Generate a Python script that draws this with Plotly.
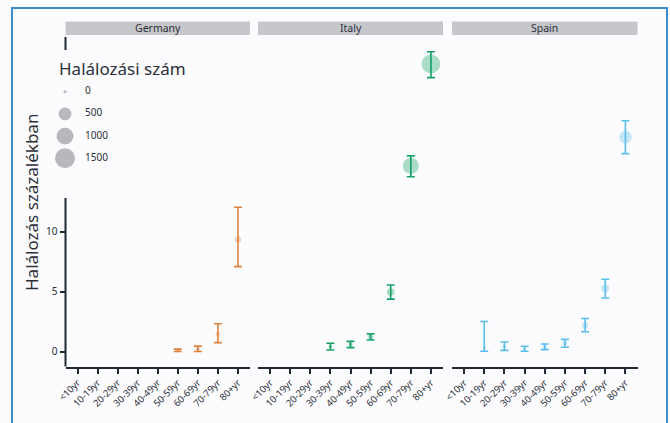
import math
import plotly.graph_objects as go

# ---- data -------------------------------------------------------------
age_groups = ["<10yr", "10-19yr", "20-29yr", "30-39yr", "40-49yr",
              "50-59yr", "60-69yr", "70-79yr", "80+yr"]
countries = ["Germany", "Italy", "Spain"]

# case fatality (%) with confidence limits and number of deaths per age group
germany_rate = [None, None, None, None, None, 0.08, 0.19, 1.43, 9.37]
germany_lower = [None, None, None, None, None, 0.00, 0.00, 0.75, 7.10]
germany_upper = [None, None, None, None, None, 0.20, 0.45, 2.32, 12.07]
germany_deaths = [None, None, None, None, None, 3, 6, 18, 60]

italy_rate = [None, None, None, 0.41, 0.60, 1.24, 4.97, 15.53, 24.05]
italy_lower = [None, None, None, 0.13, 0.33, 0.96, 4.38, 14.62, 22.90]
italy_upper = [None, None, None, 0.69, 0.85, 1.49, 5.57, 16.36, 25.07]
italy_deaths = [None, None, None, 4, 10, 40, 120, 880, 1290]

spain_rate = [None, 0.30, 0.44, 0.25, 0.38, 0.69, 2.18, 5.27, 17.93]
spain_lower = [None, 0.02, 0.10, 0.02, 0.16, 0.36, 1.66, 4.48, 16.55]
spain_upper = [None, 2.51, 0.80, 0.44, 0.63, 1.02, 2.76, 6.05, 19.30]
spain_deaths = [None, 1, 4, 3, 9, 20, 55, 130, 490]

size_breaks = [0, 500, 1000, 1500]
size_labels = ["0", "500", "1000", "1500"]

series = {
    "Germany": (germany_rate, germany_lower, germany_upper, germany_deaths),
    "Italy": (italy_rate, italy_lower, italy_upper, italy_deaths),
    "Spain": (spain_rate, spain_lower, spain_upper, spain_deaths),
}
colors = {"Germany": "#E0823D", "Italy": "#13A065", "Spain": "#5BBDEC"}


def rgba(hex_color, alpha):
    h = hex_color.lstrip("#")
    r, g, b = int(h[0:2], 16), int(h[2:4], 16), int(h[4:6], 16)
    return f"rgba({r},{g},{b},{alpha})"


def point_size(deaths, dmin=3.0, dspan=17.5, vmax=1600.0):
    """Area-proportional diameter in px for a death count."""
    if deaths is None:
        return 0
    return dmin + dspan * math.sqrt(max(deaths, 0) / vmax)


# ---- page geometry (pixels) -------------------------------------------
WIDTH, HEIGHT = 670, 423
ML, MR, MT, MB = 10, 10, 10, 10
PW, PH = WIDTH - ML - MR, HEIGHT - MT - MB


def fx(px):
    return (px - ML) / PW


def fy(px):
    return 1 - (px - MT) / PH


panel_px = [(65.5, 250.0), (258.0, 443.0), (452.0, 637.5)]
panel_top, panel_bottom = 37.0, 366.5
strip_top, strip_bottom = 21.5, 35.0
legend_gap = (50.0, 198.0)

AXIS_COL = "#1f2833"
TEXT_COL = "#2b2f38"
FONT = "Noto Sans"

fig = go.Figure()

for i, country in enumerate(countries):
    rate, lo, hi, deaths = series[country]
    err_plus = [(h - r) if r is not None else 0 for r, h in zip(rate, hi)]
    err_minus = [(r - l) if r is not None else 0 for r, l in zip(rate, lo)]
    ax = "" if i == 0 else str(i + 1)
    fig.add_trace(go.Scatter(
        x=age_groups, y=rate, mode="markers",
        xaxis="x" + ax, yaxis="y" + ax,
        marker=dict(size=[point_size(d) for d in deaths],
                    color=rgba(colors[country], 0.5), line=dict(width=0)),
        error_y=dict(type="data", symmetric=False, array=err_plus,
                     arrayminus=err_minus, color=colors[country],
                     thickness=1.6, width=4),
        showlegend=False, hoverinfo="skip", cliponaxis=False,
    ))

    fig.layout["xaxis" + ax] = dict(
        domain=[fx(panel_px[i][0]), fx(panel_px[i][1])],
        anchor="y" + ax, type="category", categoryarray=age_groups,
        categoryorder="array", range=[-0.6, 8.6],
        tickmode="array", tickvals=age_groups, ticktext=age_groups,
        tickangle=-45, tickfont=dict(size=9.5, color=TEXT_COL, family=FONT),
        ticks="outside", ticklen=5, tickwidth=1.5, tickcolor=AXIS_COL,
        showline=True, linecolor=AXIS_COL, linewidth=2,
        showgrid=False, zeroline=False, fixedrange=True, automargin=False,
    )
    ydict = dict(
        domain=[fy(panel_bottom), fy(panel_top)], anchor="x" + ax,
        range=[-1.25, 26.3], showgrid=False, zeroline=False,
        showline=False, fixedrange=True, automargin=False,
    )
    if i == 0:
        ydict.update(tickmode="array", tickvals=[0, 5, 10],
                     ticks="outside", ticklen=5, tickwidth=1.5,
                     tickcolor=AXIS_COL,
                     tickfont=dict(size=10, color=TEXT_COL, family=FONT))
    else:
        ydict.update(matches="y", showticklabels=False, ticks="")
    fig.layout["yaxis" + ax] = ydict

    # facet strip
    fig.add_shape(type="rect", xref="paper", yref="paper",
                  x0=fx(panel_px[i][0]), x1=fx(panel_px[i][1]),
                  y0=fy(strip_bottom), y1=fy(strip_top),
                  fillcolor="#c6c7cb", line=dict(width=0), layer="below")
    fig.add_annotation(text=country, xref="paper", yref="paper",
                       x=(fx(panel_px[i][0]) + fx(panel_px[i][1])) / 2,
                       y=(fy(strip_bottom) + fy(strip_top)) / 2,
                       showarrow=False, xanchor="center", yanchor="middle",
                       font=dict(size=10.5, color=TEXT_COL, family=FONT))

# left axis line, interrupted where the size key sits
for y0, y1 in [(panel_bottom, legend_gap[1]), (legend_gap[0], panel_top)]:
    fig.add_shape(type="line", xref="paper", yref="paper",
                  x0=fx(panel_px[0][0]), x1=fx(panel_px[0][0]),
                  y0=fy(y0), y1=fy(y1),
                  line=dict(color=AXIS_COL, width=2))

# size key drawn on its own hidden axes
key_x0, key_x1 = 40.0, 200.0
key_top, key_bottom = 80.7, 169.3
fig.add_trace(go.Scatter(
    x=[25] * len(size_breaks), y=list(range(len(size_breaks))),
    mode="markers", xaxis="x4", yaxis="y4",
    marker=dict(size=[point_size(v) for v in size_breaks],
                color="rgba(120,121,130,0.75)", line=dict(width=0)),
    showlegend=False, hoverinfo="skip", cliponaxis=False,
))
fig.add_trace(go.Scatter(
    x=[45] * len(size_breaks), y=list(range(len(size_breaks))),
    mode="text", text=size_labels, textposition="middle right",
    textfont=dict(size=10, color=TEXT_COL, family=FONT),
    xaxis="x4", yaxis="y4", showlegend=False, hoverinfo="skip",
    cliponaxis=False,
))
fig.layout["xaxis4"] = dict(domain=[fx(key_x0), fx(key_x1)], anchor="y4",
                            range=[0, key_x1 - key_x0], visible=False,
                            fixedrange=True, automargin=False)
fig.layout["yaxis4"] = dict(domain=[fy(key_bottom), fy(key_top)],
                            anchor="x4", range=[len(size_breaks) - 0.5, -0.5],
                            visible=False, fixedrange=True, automargin=False)
fig.add_annotation(text="Halálozási szám", xref="paper", yref="paper",
                   x=fx(57), y=fy(68), xanchor="left", yanchor="middle",
                   showarrow=False,
                   font=dict(size=17, color=TEXT_COL, family=FONT))

# y-axis title
fig.add_annotation(text="Halálozás százalékban", xref="paper", yref="paper",
                   x=fx(31), y=fy(203), textangle=-90, showarrow=False,
                   xanchor="center", yanchor="middle",
                   font=dict(size=17, color=TEXT_COL, family=FONT))

# outer frame
fig.add_shape(type="rect", xref="paper", yref="paper",
              x0=fx(12), x1=fx(667), y0=fy(440), y1=fy(8),
              line=dict(color="#3b8ecb", width=2), fillcolor="rgba(0,0,0,0)")

fig.update_layout(
    width=WIDTH, height=HEIGHT,
    margin=dict(l=ML, r=MR, t=MT, b=MB),
    paper_bgcolor="#fcfcfe", plot_bgcolor="#fcfcfe",
    font=dict(family=FONT, color=TEXT_COL),
    showlegend=False,
)

fig.write_html("out.html")
